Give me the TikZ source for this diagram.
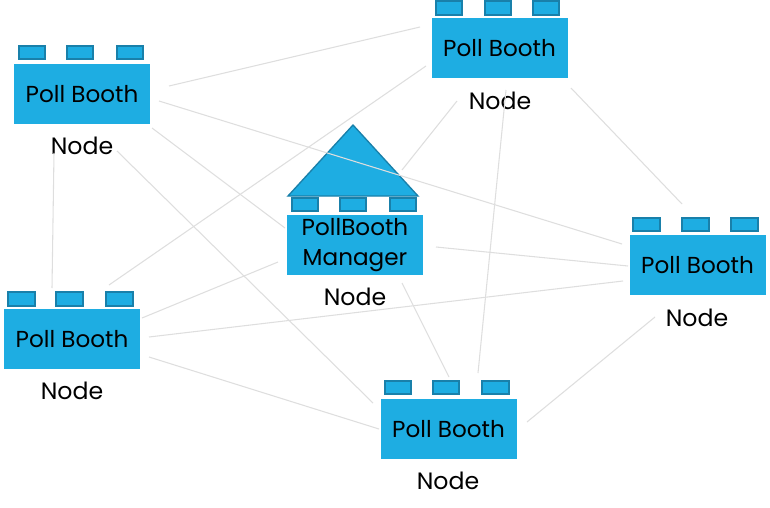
\documentclass[tikz,border=0pt]{standalone}
\usepackage{fontspec}
\setmainfont{Poppins}
\usepackage{tikz}
\usetikzlibrary{positioning}

\definecolor{boothblue}{RGB}{30,173,226}
\definecolor{tabline}{RGB}{25,128,170}
\definecolor{linkgray}{RGB}{222,222,222}

\tikzset{
  booth/.style={fill=boothblue,draw=none,minimum width=102bp,minimum height=45bp,inner sep=0pt,
    font=\fontsize{17.4}{21.8}\selectfont,align=center},
  tab/.style={fill=boothblue,draw=tabline,line width=1.3bp,minimum width=20bp,minimum height=10bp,inner sep=0pt},
  roof/.style={fill=boothblue,draw=tabline,line width=1bp,line join=miter},
  nodelabel/.style={draw=none,font=\fontsize{17.8}{21}\selectfont},
  link/.style={draw=linkgray,line width=0.8bp},
}

\begin{document}
\begin{tikzpicture}[x=0.75bp,y=-0.75bp]
\useasboundingbox (0,0) rectangle (770,508);
%%
\node (tl) at (82,94) [booth] {Poll Booth};
  \node (tl1) at (32,52.5) [tab] {};
  \node (tl2) at (80,52.5) [tab] {};
  \node (tl3) at (130,52.5) [tab] {};
  \node (tllabel) at (82,146) [nodelabel] {Node};
\node (top) at (499.5,48) [booth] {Poll Booth};
  \node (top1) at (449,8) [tab] {};
  \node (top2) at (498,8) [tab] {};
  \node (top3) at (546,8) [tab] {};
  \node (toplabel) at (500,101) [nodelabel] {Node};
\node (rt) at (697.5,265) [booth] {Poll Booth};
  \node (rt1) at (646.5,224.5) [tab] {};
  \node (rt2) at (695.5,224.5) [tab] {};
  \node (rt3) at (744.5,224.5) [tab] {};
  \node (rtlabel) at (697,318) [nodelabel] {Node};
\node (lf) at (72,339) [booth] {Poll Booth};
  \node (lf1) at (21.5,299) [tab] {};
  \node (lf2) at (69.5,299) [tab] {};
  \node (lf3) at (119.5,299) [tab] {};
  \node (lflabel) at (72,391) [nodelabel] {Node};
\node (bt) at (448.5,429) [booth] {Poll Booth};
  \node (bt1) at (398,387.5) [tab] {};
  \node (bt2) at (446,387.5) [tab] {};
  \node (bt3) at (495.5,387.5) [tab] {};
  \node (btlabel) at (448,481) [nodelabel] {Node};
%% manager
\draw [roof] (353,125) -- (418,196) -- (288,196) -- cycle;
\node (mgr) at (355,245) [booth] {PollBooth\\[0.8bp]Manager};
  \node (mgr1) at (305,204.5) [tab] {};
  \node (mgr2) at (353,204.5) [tab] {};
  \node (mgr3) at (403,204.5) [tab] {};
  \node (mgrlabel) at (355,297) [nodelabel] {Node};
%% link ends
\coordinate (a1) at (169,86);   \coordinate (b1) at (420,27);
\coordinate (a2) at (159,101);  \coordinate (b2) at (622,244);
\coordinate (a3) at (152,128);  \coordinate (b3) at (285,228);
\coordinate (a4) at (117,151);  \coordinate (b4) at (373,403);
\coordinate (a5) at (54,153);   \coordinate (b5) at (52,288);
\coordinate (a6) at (426,66);   \coordinate (b6) at (109,285);
\coordinate (a7) at (457,101);  \coordinate (b7) at (402,170);
\coordinate (a8) at (506,90);   \coordinate (b8) at (478,373);
\coordinate (a9) at (571,88);   \coordinate (b9) at (682,204);
\coordinate (a10) at (436,247); \coordinate (b10) at (628,266);
\coordinate (a11) at (149,337); \coordinate (b11) at (623,281);
\coordinate (a12) at (142,318); \coordinate (b12) at (278,262);
\coordinate (a13) at (149,357); \coordinate (b13) at (379,429);
\coordinate (a14) at (402,283); \coordinate (b14) at (449,377);
\coordinate (a15) at (655,317); \coordinate (b15) at (527,422);
\draw [link] (a1) -- (b1);
\draw [link] (a2) -- (b2);
\draw [link] (a3) -- (b3);
\draw [link] (a4) -- (b4);
\draw [link] (a5) -- (b5);
\draw [link] (a6) -- (b6);
\draw [link] (a7) -- (b7);
\draw [link] (a8) -- (b8);
\draw [link] (a9) -- (b9);
\draw [link] (a10) -- (b10);
\draw [link] (a11) -- (b11);
\draw [link] (a12) -- (b12);
\draw [link] (a13) -- (b13);
\draw [link] (a14) -- (b14);
\draw [link] (a15) -- (b15);
%
\end{tikzpicture}
\end{document}
